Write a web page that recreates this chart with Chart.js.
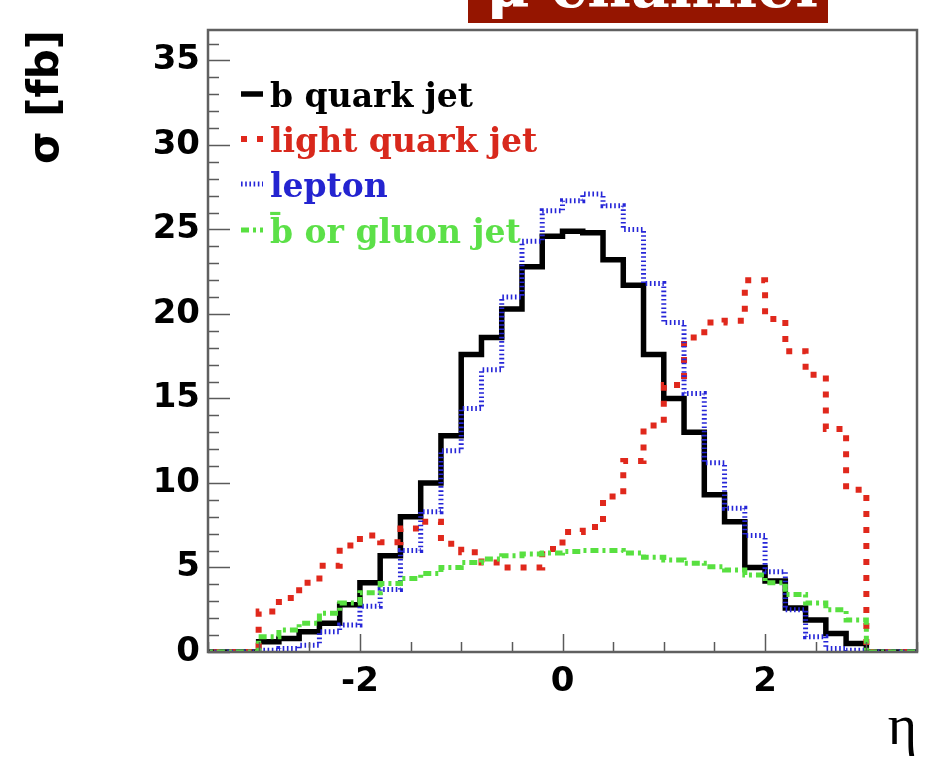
<!DOCTYPE html>
<html>
<head>
<meta charset="utf-8">
<script src="https://cdn.jsdelivr.net/npm/chart.js@4.4.1/dist/chart.umd.min.js"></script>
<style>
  html, body { margin: 0; padding: 0; background: #ffffff; }
  #wrap { width: 930px; height: 768px; position: relative; }
</style>
</head>
<body>
<div id="wrap"><canvas id="c" width="930" height="768"></canvas></div>
<script>
// ---- data ----
const binEdges = [-3.6, -3.4, -3.2, -3.0, -2.8, -2.6, -2.4, -2.2, -2.0, -1.8, -1.6, -1.4, -1.2, -1.0,
                  -0.8, -0.6, -0.4, -0.2, 0.0, 0.2, 0.4, 0.6, 0.8, 1.0, 1.2, 1.4, 1.6, 1.8, 2.0,
                  2.2, 2.4, 2.6, 2.8, 3.0, 3.2, 3.4, 3.6];
const bQuarkJet = [0, 0, 0, 0.6, 0.8, 1.2, 1.7, 2.8, 4.1, 5.7, 8.0, 10.0, 12.8, 17.6, 18.6, 20.3, 22.8, 24.6,
                   24.9, 24.8, 23.2, 21.7, 17.6, 15.0, 13.0, 9.3, 7.7, 5.0, 4.2, 2.6, 1.9, 1.1, 0.5, 0, 0, 0];
const lightQuarkJet = [0, 0, 0, 2.4, 3.2, 4.1, 5.1, 6.3, 6.9, 6.5, 7.3, 7.7, 6.4, 5.9, 5.3, 5.0, 5.0, 6.1,
                       7.1, 7.4, 9.2, 11.3, 13.4, 15.8, 18.6, 19.5, 19.6, 22.0, 19.7, 17.8, 16.4, 13.2, 9.6, 0, 0, 0];
const lepton = [0, 0, 0, 0.1, 0.2, 0.4, 1.2, 1.6, 2.7, 3.7, 6.0, 8.3, 11.9, 14.4, 16.7, 21.0, 24.3, 26.1,
                26.7, 27.1, 26.4, 25.0, 21.8, 19.5, 15.3, 11.2, 8.5, 6.9, 4.75, 2.5, 0.9, 0.2, 0.1, 0, 0, 0];
const bbarOrGluonJet = [0, 0, 0, 0.9, 1.3, 1.7, 2.3, 2.9, 3.5, 4.05, 4.35, 4.65, 5.0, 5.3, 5.5, 5.7, 5.8, 5.85,
                        5.95, 6.0, 6.0, 5.85, 5.6, 5.45, 5.25, 5.05, 4.85, 4.55, 4.1, 3.4, 2.9, 2.5, 1.9, 0, 0, 0];
const seriesLabels = ['b quark jet', 'light quark jet', 'lepton', 'b\u0304 or gluon jet'];
const xTickValues = [-2, 0, 2];
const yTickValues = [0, 5, 10, 15, 20, 25, 30, 35];
const xTitle = '\u03b7';
const yTitle = '\u03c3 [fb]';
const channelTitle = '\u03bc channel';

// histogram outline points built from the bin edges and bin contents
function histPoints(values) {
  const pts = [];
  values.forEach((v, i) => {
    pts.push({ x: binEdges[i], y: v });
    pts.push({ x: binEdges[i + 1], y: v });
  });
  return pts;
}

const styles = [
  { color: '#000000', textColor: '#000000', width: 5.5, dash: [] , order: 3 },
  { color: '#e0281c', textColor: '#d8281c', width: 6, dash: [6, 10], order: 2 },
  { color: '#2626d8', textColor: '#2424d0', width: 5, dash: [1.6, 2.6], order: 1 },
  { color: '#58e040', textColor: '#5ce048', width: 5, dash: [8, 4, 3, 4], order: 0 }
];
const seriesValues = [bQuarkJet, lightQuarkJet, lepton, bbarOrGluonJet];

const datasets = seriesValues.map((vals, i) => ({
  label: seriesLabels[i],
  data: histPoints(vals),
  borderColor: styles[i].color,
  borderWidth: styles[i].width,
  borderDash: styles[i].dash,
  order: styles[i].order,
  fill: false,
  pointRadius: 0,
  tension: 0,
  borderCapStyle: 'butt',
  borderJoinStyle: 'miter'
}));

const rootStyle = {
  id: 'rootStyle',
  beforeDraw(chart) {
    const ctx = chart.ctx;
    ctx.save();
    ctx.fillStyle = '#ffffff';
    ctx.fillRect(0, 0, chart.width, chart.height);
    ctx.restore();
  },
  afterDatasetsDraw(chart) {
    const { ctx, chartArea: a, scales } = chart;
    const xs = scales.x, ys = scales.y;
    ctx.save();
    ctx.strokeStyle = '#5a5a5a';
    ctx.lineWidth = 1.5;
    // y ticks (inward)
    for (let v = 0; v <= 36; v += 1) {
      const y = Math.round(ys.getPixelForValue(v)) + 0.5;
      const len = (v % 5 === 0) ? 22 : 11;
      ctx.beginPath(); ctx.moveTo(a.left, y); ctx.lineTo(a.left + len, y); ctx.stroke();
    }
    // x ticks (inward)
    for (let k = -7; k <= 7; k++) {
      const v = k * 0.5;
      const x = Math.round(xs.getPixelForValue(v)) + 0.5;
      const len = (k % 4 === 0) ? 18 : 10;
      ctx.beginPath(); ctx.moveTo(x, a.bottom); ctx.lineTo(x, a.bottom - len); ctx.stroke();
    }
    // frame
    ctx.strokeStyle = '#606060';
    ctx.lineWidth = 2.5;
    ctx.strokeRect(a.left, a.top, a.right - a.left, a.bottom - a.top);
    ctx.restore();
  },
  afterDraw(chart) {
    const ctx = chart.ctx;
    ctx.save();
    // legend inside the frame
    const baselines = [107, 152, 197, 243];
    chart.data.datasets.forEach((ds, i) => {
      const yb = baselines[i];
      const ly = yb - 13;
      ctx.save();
      ctx.strokeStyle = styles[i].color;
      ctx.lineWidth = styles[i].width;
      ctx.setLineDash(styles[i].dash);
      ctx.lineCap = 'butt';
      ctx.beginPath(); ctx.moveTo(241, ly); ctx.lineTo(263, ly); ctx.stroke();
      ctx.restore();
      ctx.fillStyle = styles[i].textColor;
      ctx.font = 'bold 33px "DejaVu Serif"';
      ctx.textAlign = 'left';
      ctx.textBaseline = 'alphabetic';
      ctx.fillText(ds.label, 270, yb);
    });
    // channel title box (cut at the top edge)
    ctx.fillStyle = '#951500';
    ctx.fillRect(468, 0, 360, 23);
    ctx.beginPath(); ctx.rect(468, 0, 360, 23); ctx.clip();
    ctx.fillStyle = '#ffffff';
    ctx.font = 'bold 60px "DejaVu Serif"';
    ctx.textAlign = 'center';
    ctx.textBaseline = 'alphabetic';
    ctx.fillText(channelTitle, 652, 7);
    ctx.restore();
  }
};

new Chart(document.getElementById('c'), {
  type: 'line',
  data: { datasets },
  plugins: [rootStyle],
  options: {
    responsive: false,
    animation: false,
    devicePixelRatio: 1,
    layout: { padding: { top: 30, right: 13, left: 0, bottom: 0 } },
    plugins: { legend: { display: false }, tooltip: { enabled: false } },
    scales: {
      x: {
        type: 'linear', min: -3.5, max: 3.5,
        grid: { display: false, drawTicks: false },
        border: { display: false },
        afterFit(s) { s.height = 116; },
        afterBuildTicks(s) { s.ticks = xTickValues.map(v => ({ value: v })); },
        ticks: {
          autoSkip: false, maxRotation: 0, padding: 10, color: '#000',
          font: { family: 'DejaVu Sans', weight: 'bold', size: 34 },
          callback: v => String(v)
        },
        title: {
          display: true, text: xTitle, align: 'end', color: '#000',
          font: { family: 'Liberation Serif', size: 56 },
          padding: { top: 0, bottom: 5 }
        }
      },
      y: {
        type: 'linear', min: 0, max: 36.8,
        grid: { display: false, drawTicks: false },
        border: { display: false },
        afterFit(s) { s.width = 208; },
        afterBuildTicks(s) { s.ticks = yTickValues.map(v => ({ value: v })); },
        ticks: {
          padding: 8, color: '#000',
          font: { family: 'DejaVu Sans', weight: 'bold', size: 34 },
          callback: v => String(v)
        },
        title: {
          display: true, text: yTitle, align: 'end', color: '#000',
          font: { family: 'DejaVu Sans', weight: 'bold', size: 42 },
          padding: { top: 22, bottom: 0 }
        }
      }
    }
  }
});
</script>
</body>
</html>
